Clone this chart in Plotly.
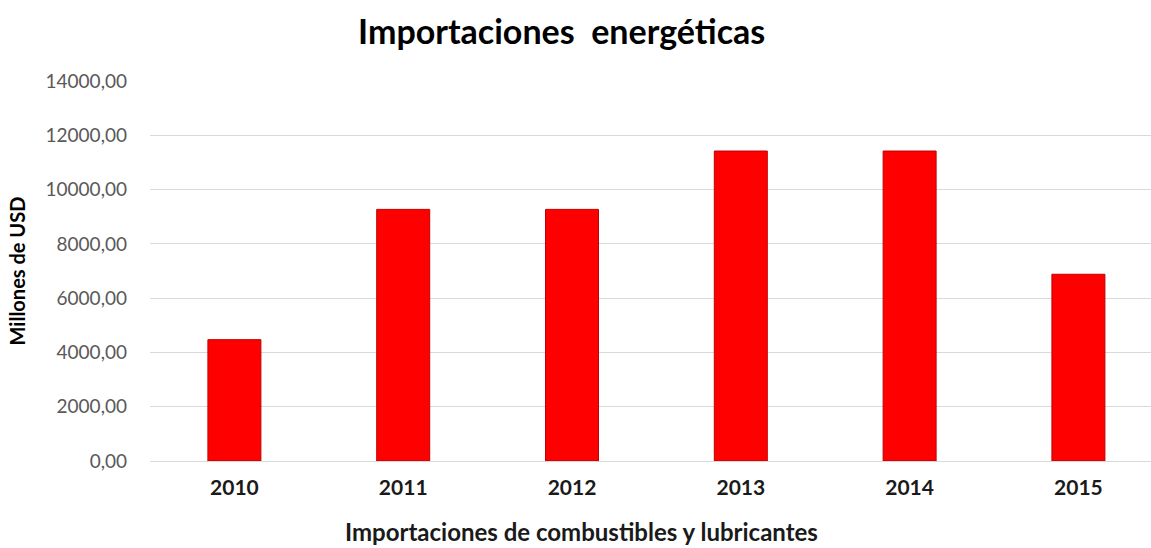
import plotly.graph_objects as go

# Importaciones de combustibles y lubricantes, millones de USD
years = ["2010", "2011", "2012", "2013", "2014", "2015"]
imports_musd = [4470, 9270, 9270, 11420, 11420, 6880]

y_ticks = [0, 2000, 4000, 6000, 8000, 10000, 12000, 14000]

fig = go.Figure(
    go.Bar(
        x=years,
        y=imports_musd,
        marker=dict(color="#FF0000", line=dict(color="#C00000", width=1)),
        hoverinfo="x+y",
    )
)

fig.update_layout(
    width=1151,
    height=548,
    margin=dict(l=150, r=0, t=81, b=87),
    paper_bgcolor="white",
    plot_bgcolor="white",
    separators=",.",
    bargap=0.686,
    showlegend=False,
    font=dict(family="Lato, 'Open Sans', sans-serif"),
    title=dict(
        text="<b>Importaciones  energéticas</b>",
        x=0.488,
        xanchor="center",
        y=0.942,
        yanchor="middle",
        font=dict(size=34, color="#000000"),
    ),
    xaxis=dict(
        type="category",
        range=[-0.5, 5.43],
        showgrid=False,
        showline=False,
        ticks="",
        tickfont=dict(size=21, color="#1a1a1a", weight="bold"),
        ticklabelstandoff=12,
    ),
    yaxis=dict(
        range=[0, 14000],
        tickvals=y_ticks,
        tickformat=".2f",
        showgrid=True,
        gridcolor="#D9D9D9",
        gridwidth=1,
        zeroline=True,
        zerolinecolor="#D9D9D9",
        zerolinewidth=1,
        showline=False,
        ticks="",
        tickfont=dict(size=19, color="#595959"),
        ticklabelstandoff=22,
        title=dict(
            text="<b>Millones de USD</b>",
            font=dict(size=20, color="#000000"),
            standoff=14,
        ),
    ),
    annotations=[
        dict(
            text="<b>Importaciones de combustibles y lubricantes</b>",
            xref="paper",
            yref="paper",
            x=(581 - 150) / 1001,
            y=-0.185,
            xanchor="center",
            yanchor="middle",
            showarrow=False,
            font=dict(size=24, color="#1a1a1a"),
        )
    ],
)

fig.write_html("out.html")
